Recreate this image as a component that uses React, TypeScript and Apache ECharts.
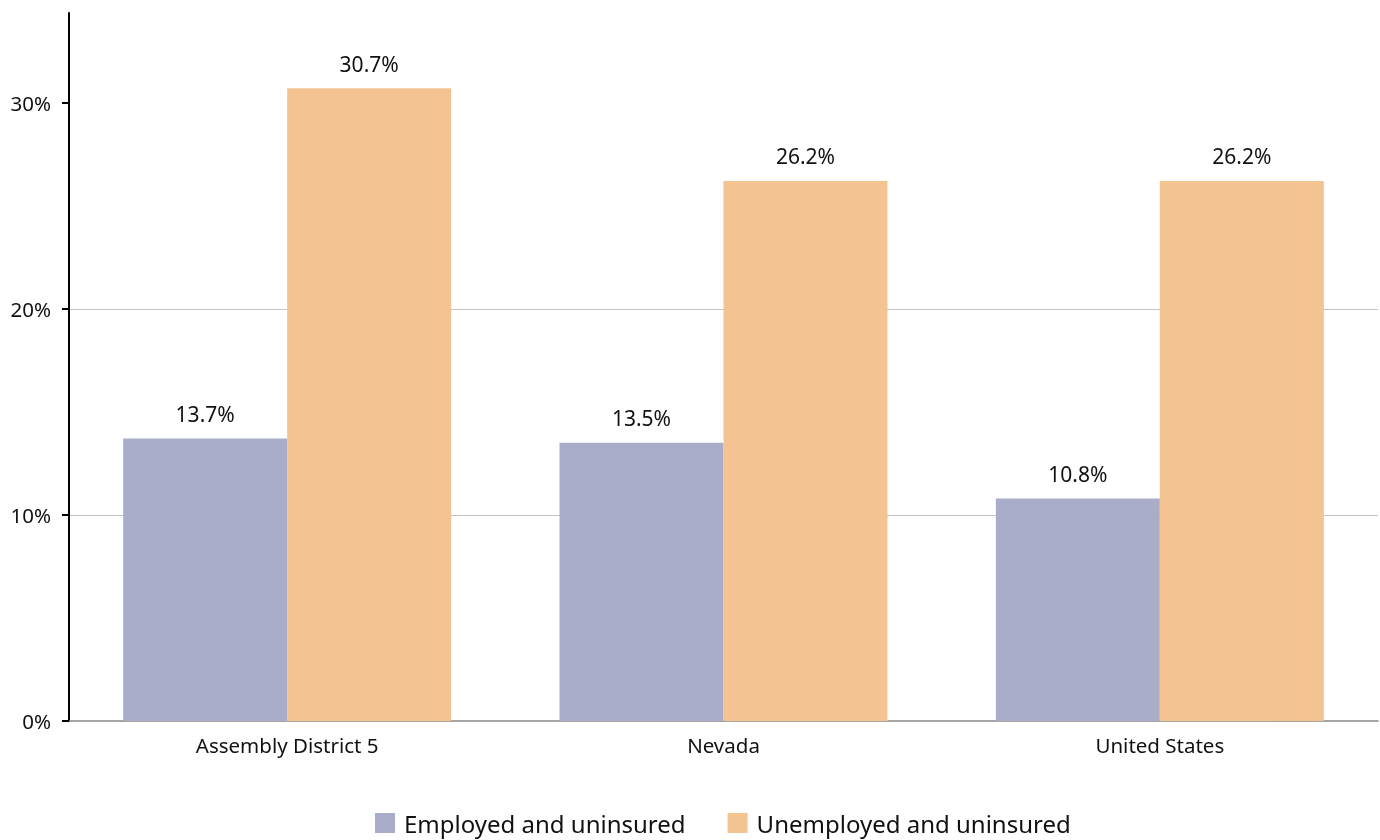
import React, { useEffect, useRef } from "react";
import * as echarts from "echarts";

const categories = ["Assembly District 5", "Nevada", "United States"];
const employedUninsured = [13.7, 13.5, 10.8];
const unemployedUninsured = [30.7, 26.2, 26.2];
const yTicks = [0, 10, 20, 30];
const seriesNames = ["Employed and uninsured", "Unemployed and uninsured"];

const FONT = "'Noto Sans', sans-serif";

export default function App() {
  const ref = useRef<HTMLDivElement>(null);
  useEffect(() => {
    if (!ref.current) return;
    const chart = echarts.init(ref.current, undefined, { renderer: "svg" });
    const label = {
      show: true,
      position: "top" as const,
      distance: 14,
      formatter: (p: any) => p.value.toFixed(1) + "%",
      color: "#111",
      fontSize: 21,
      fontFamily: FONT,
    };
    chart.setOption({
      animation: false,
      textStyle: { fontFamily: FONT },
      grid: { left: 69, right: 2, top: 13, bottom: 119, containLabel: false },
      legend: {
        top: 810,
        left: 375,
        padding: 0,
        itemWidth: 20,
        itemHeight: 20,
        itemGap: 42,
        icon: "rect",
        textStyle: {
          fontSize: 24,
          lineHeight: 26,
          color: "#111",
          fontFamily: FONT,
          padding: [0, 0, 0, 4],
        },
        data: seriesNames,
      },
      xAxis: {
        type: "category",
        data: categories,
        axisLine: { lineStyle: { color: "#888", width: 1.5 } },
        axisTick: { show: false },
        axisLabel: { fontSize: 20.5, color: "#111", margin: 13, fontFamily: FONT },
      },
      yAxis: {
        type: "value",
        min: 0,
        max: 34.35,
        interval: 10,
        axisLine: { show: true, lineStyle: { color: "#000", width: 2 } },
        axisTick: { show: true, length: 7, customValues: yTicks, lineStyle: { color: "#000", width: 2 } },
        axisLabel: {
          customValues: yTicks,
          fontSize: 20.5,
          color: "#111",
          margin: 18,
          fontFamily: FONT,
          formatter: (v: number) => v + "%",
        },
        splitLine: {
          show: true,
          showMinLine: false,
          showMaxLine: false,
          lineStyle: { color: "#c4c4c4", width: 1 },
        },
      },
      series: [
        {
          name: seriesNames[0],
          type: "bar",
          data: employedUninsured,
          barWidth: 164,
          barGap: "0%",
          itemStyle: { color: "#a9adc9" },
          label,
        },
        {
          name: seriesNames[1],
          type: "bar",
          data: unemployedUninsured,
          barWidth: 164,
          barGap: "0%",
          itemStyle: { color: "#f3c391" },
          label,
        },
      ],
    });
    return () => chart.dispose();
  }, []);
  return (
    <div
      ref={ref}
      style={{ position: "fixed", left: 0, top: 0, width: 1380, height: 840, overflow: "hidden" }}
    />
  );
}
